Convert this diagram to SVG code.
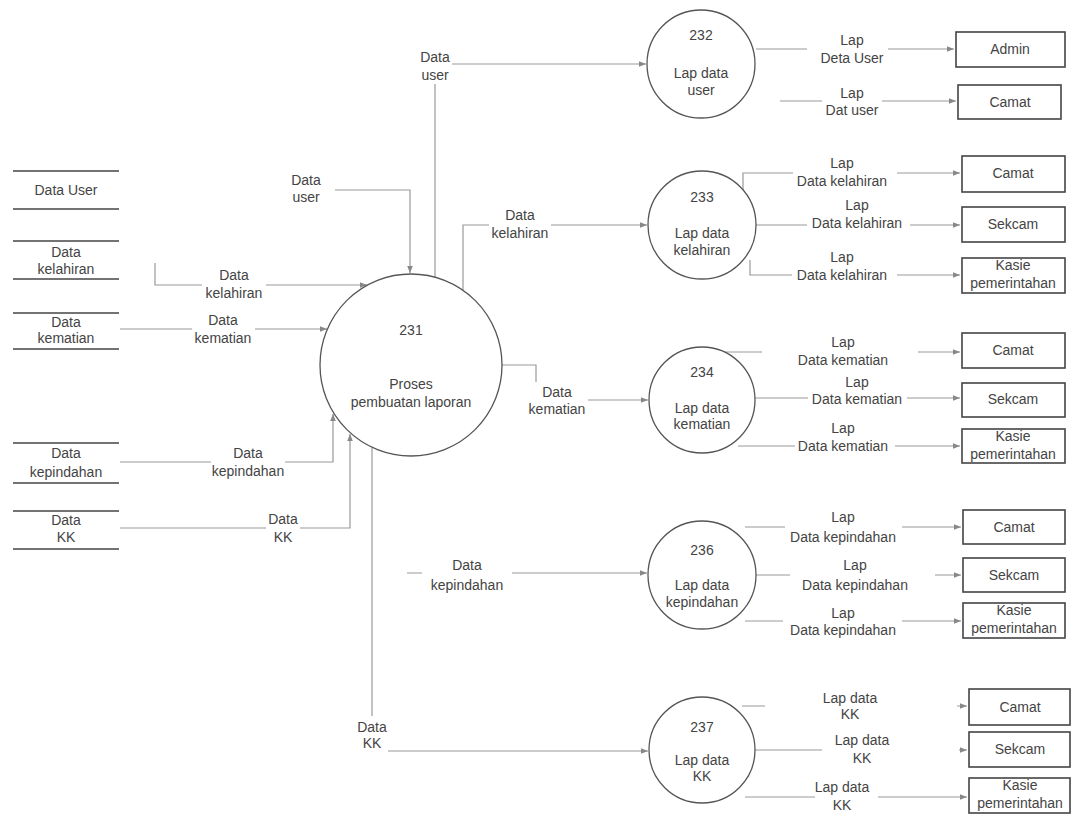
<svg xmlns="http://www.w3.org/2000/svg" width="1073" height="817" viewBox="0 0 1073 817">
<style>
text{font-family:"Liberation Sans",Arial,sans-serif;font-size:14px;fill:#444;text-anchor:middle;dominant-baseline:central}
.ln{fill:none;stroke:#999;stroke-width:1.2}
.proc{fill:#fff;stroke:#555;stroke-width:1.3}
.ent{fill:#fff;stroke:#444;stroke-width:1.6}
.store{stroke:#444;stroke-width:1.6}
.bg{fill:#fff}
</style>
<defs>
<marker id="ar" viewBox="0 0 10 10" refX="10" refY="5" markerWidth="7" markerHeight="7" orient="auto" markerUnits="userSpaceOnUse">
<path d="M0,1 L10,5 L0,9 z" fill="#888"/>
</marker>
</defs>
<rect width="1073" height="817" fill="#fff"/>

<g id="connectors">
<path class="ln" d="M335,190 H410 V273" marker-end="url(#ar)"/>
<path class="ln" d="M155,263 V285 H367" marker-end="url(#ar)"/>
<path class="ln" d="M120,329 H327" marker-end="url(#ar)"/>
<path class="ln" d="M120,462 H333 V414" marker-end="url(#ar)"/>
<path class="ln" d="M120,528 H350 V434" marker-end="url(#ar)"/>
<path class="ln" d="M435,277 V64 H646" marker-end="url(#ar)"/>
<path class="ln" d="M463,290 V225 H647" marker-end="url(#ar)"/>
<path class="ln" d="M502,365 H536 V400 H648" marker-end="url(#ar)"/>
<path class="ln" d="M407,573 H647" marker-end="url(#ar)"/>
<path class="ln" d="M372,447 V751 H648" marker-end="url(#ar)"/>
<path class="ln" d="M756,49 H954" marker-end="url(#ar)"/>
<path class="ln" d="M780,101 H956" marker-end="url(#ar)"/>
<path class="ln" d="M743,190 V173 H960" marker-end="url(#ar)"/>
<path class="ln" d="M756,225 H960" marker-end="url(#ar)"/>
<path class="ln" d="M750,260 V275 H960" marker-end="url(#ar)"/>
<path class="ln" d="M724,352 H960" marker-end="url(#ar)"/>
<path class="ln" d="M755,398 H960" marker-end="url(#ar)"/>
<path class="ln" d="M738,446 H960" marker-end="url(#ar)"/>
<path class="ln" d="M745,527 H961" marker-end="url(#ar)"/>
<path class="ln" d="M756,575 H961" marker-end="url(#ar)"/>
<path class="ln" d="M745,621 H961" marker-end="url(#ar)"/>
<path class="ln" d="M742,706 H967" marker-end="url(#ar)"/>
<path class="ln" d="M755,750 H967" marker-end="url(#ar)"/>
<path class="ln" d="M745,797 H967" marker-end="url(#ar)"/>
</g>

<g id="flow-labels">
<text x="306" y="180">Data</text><text x="306" y="197">user</text>
<rect class="bg" x="202" y="265" width="64" height="37"/><text x="234" y="275">Data</text><text x="234" y="293">kelahiran</text>
<rect class="bg" x="192" y="310" width="63" height="37"/><text x="223" y="320">Data</text><text x="223" y="338">kematian</text>
<rect class="bg" x="211" y="443" width="74" height="37"/><text x="248" y="453">Data</text><text x="248" y="471">kepindahan</text>
<rect class="bg" x="266" y="509" width="34" height="37"/><text x="283" y="519">Data</text><text x="283" y="537">KK</text>
<rect class="bg" x="418" y="47" width="34" height="37"/><text x="435" y="57">Data</text><text x="435" y="75">user</text>
<rect class="bg" x="489" y="205" width="62" height="37"/><text x="520" y="215">Data</text><text x="520" y="233">kelahiran</text>
<rect class="bg" x="527" y="382" width="61" height="37"/><text x="557" y="392">Data</text><text x="557" y="409">kematian</text>
<rect class="bg" x="422" y="555" width="90" height="39"/><text x="467" y="565">Data</text><text x="467" y="585">kepindahan</text>
<rect class="bg" x="352" y="716" width="36" height="37"/><text x="372" y="727">Data</text><text x="372" y="743">KK</text>

<rect class="bg" x="807" y="30" width="81" height="37"/><text x="852" y="40">Lap</text><text x="852" y="58">Deta User</text>
<rect class="bg" x="822" y="84" width="60" height="35"/><text x="852" y="93">Lap</text><text x="852" y="110">Dat user</text>
<rect class="bg" x="793" y="153" width="104" height="37"/><text x="842" y="163">Lap</text><text x="842" y="181">Data kelahiran</text>
<rect class="bg" x="807" y="195" width="103" height="37"/><text x="857" y="205">Lap</text><text x="857" y="223">Data kelahiran</text>
<rect class="bg" x="792" y="247" width="105" height="37"/><text x="842" y="257">Lap</text><text x="842" y="275">Data kelahiran</text>
<rect class="bg" x="762" y="332" width="156" height="37"/><text x="843" y="342">Lap</text><text x="843" y="360">Data kematian</text>
<rect class="bg" x="808" y="372" width="99" height="36"/><text x="857" y="382">Lap</text><text x="857" y="399">Data kematian</text>
<rect class="bg" x="795" y="418" width="100" height="37"/><text x="843" y="428">Lap</text><text x="843" y="446">Data kematian</text>
<rect class="bg" x="785" y="507" width="117" height="39"/><text x="843" y="517">Lap</text><text x="843" y="537">Data kepindahan</text>
<rect class="bg" x="790" y="555" width="145" height="39"/><text x="855" y="565">Lap</text><text x="855" y="585">Data kepindahan</text>
<rect class="bg" x="783" y="603" width="119" height="36"/><text x="843" y="613">Lap</text><text x="843" y="630">Data kepindahan</text>
<rect class="bg" x="765" y="689" width="192" height="34"/><text x="850" y="698">Lap data</text><text x="850" y="714">KK</text>
<rect class="bg" x="822" y="731" width="137" height="36"/><text x="862" y="740">Lap data</text><text x="862" y="758">KK</text>
<rect class="bg" x="815" y="778" width="63" height="36"/><text x="842" y="787">Lap data</text><text x="842" y="805">KK</text>
</g>

<g id="store-data-user"><line class="store" x1="13" y1="171" x2="119" y2="171"/><line class="store" x1="13" y1="209" x2="119" y2="209"/><text x="66" y="190">Data User</text></g>
<g id="store-data-kelahiran"><line class="store" x1="13" y1="241" x2="119" y2="241"/><line class="store" x1="13" y1="279" x2="119" y2="279"/><text x="66" y="252">Data</text><text x="66" y="269">kelahiran</text></g>
<g id="store-data-kematian"><line class="store" x1="13" y1="313" x2="119" y2="313"/><line class="store" x1="13" y1="349" x2="119" y2="349"/><text x="66" y="322">Data</text><text x="66" y="338">kematian</text></g>
<g id="store-data-kepindahan"><line class="store" x1="13" y1="443" x2="119" y2="443"/><line class="store" x1="13" y1="483" x2="119" y2="483"/><text x="66" y="453">Data</text><text x="66" y="472">kepindahan</text></g>
<g id="store-data-kk"><line class="store" x1="13" y1="511" x2="119" y2="511"/><line class="store" x1="13" y1="549" x2="119" y2="549"/><text x="66" y="520">Data</text><text x="66" y="537">KK</text></g>

<g id="p231"><circle class="proc" cx="411" cy="365" r="91"/><text x="411" y="330">231</text><text x="411" y="384">Proses</text><text x="411" y="402">pembuatan laporan</text></g>
<g id="p232"><circle class="proc" cx="701" cy="64" r="54"/><text x="701" y="35">232</text><text x="701" y="73">Lap data</text><text x="701" y="90">user</text></g>
<g id="p233"><circle class="proc" cx="702" cy="225" r="54"/><text x="702" y="197">233</text><text x="702" y="233">Lap data</text><text x="702" y="250">kelahiran</text></g>
<g id="p234"><circle class="proc" cx="702" cy="400" r="53"/><text x="702" y="372">234</text><text x="702" y="408">Lap data</text><text x="702" y="424">kematian</text></g>
<g id="p236"><circle class="proc" cx="702" cy="575" r="54"/><text x="702" y="550">236</text><text x="702" y="585">Lap data</text><text x="702" y="602">kepindahan</text></g>
<g id="p237"><circle class="proc" cx="702" cy="750" r="53"/><text x="702" y="727">237</text><text x="702" y="760">Lap data</text><text x="702" y="776">KK</text></g>

<g id="e-admin"><rect class="ent" x="956" y="32" width="109" height="35"/><text x="1010" y="49">Admin</text></g>
<g id="e-camat-1"><rect class="ent" x="958" y="85" width="103" height="34"/><text x="1010" y="102">Camat</text></g>
<g id="e-camat-2"><rect class="ent" x="962" y="156" width="103" height="36"/><text x="1013" y="173">Camat</text></g>
<g id="e-sekcam-2"><rect class="ent" x="962" y="207" width="103" height="35"/><text x="1013" y="224">Sekcam</text></g>
<g id="e-kasie-2"><rect class="ent" x="962" y="258" width="103" height="35"/><text x="1013" y="265">Kasie</text><text x="1013" y="283">pemerintahan</text></g>
<g id="e-camat-3"><rect class="ent" x="962" y="333" width="103" height="35"/><text x="1013" y="350">Camat</text></g>
<g id="e-sekcam-3"><rect class="ent" x="962" y="383" width="103" height="34"/><text x="1013" y="399">Sekcam</text></g>
<g id="e-kasie-3"><rect class="ent" x="962" y="429" width="103" height="34"/><text x="1013" y="436">Kasie</text><text x="1013" y="454">pemerintahan</text></g>
<g id="e-camat-4"><rect class="ent" x="963" y="510" width="102" height="34"/><text x="1014" y="527">Camat</text></g>
<g id="e-sekcam-4"><rect class="ent" x="963" y="558" width="102" height="34"/><text x="1014" y="575">Sekcam</text></g>
<g id="e-kasie-4"><rect class="ent" x="963" y="603" width="102" height="35"/><text x="1014" y="610">Kasie</text><text x="1014" y="628">pemerintahan</text></g>
<g id="e-camat-5"><rect class="ent" x="969" y="689" width="101" height="36"/><text x="1020" y="707">Camat</text></g>
<g id="e-sekcam-5"><rect class="ent" x="969" y="732" width="101" height="35"/><text x="1020" y="749">Sekcam</text></g>
<g id="e-kasie-5"><rect class="ent" x="969" y="778" width="101" height="35"/><text x="1020" y="785">Kasie</text><text x="1020" y="803">pemerintahan</text></g>
</svg>
